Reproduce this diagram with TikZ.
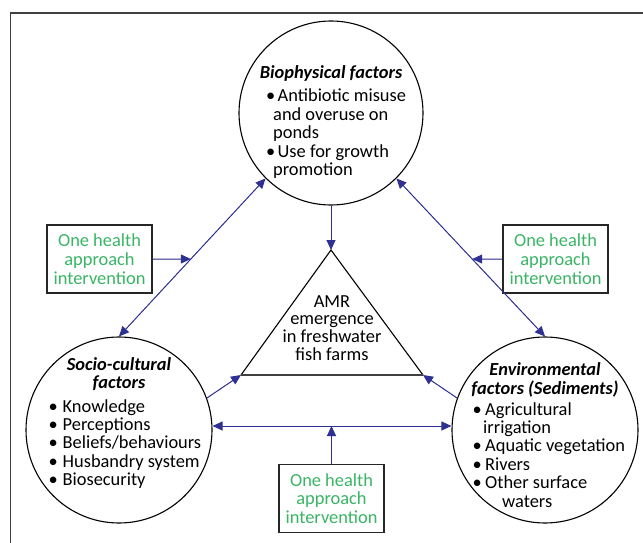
\documentclass[tikz,border=0pt]{standalone}
\usepackage{fontspec}
\setmainfont{Carlito}
\usetikzlibrary{arrows.meta,calc}
\definecolor{navyline}{RGB}{46,49,146}
\definecolor{ohgreen}{RGB}{57,181,101}
\newcommand\bitem[1]{\makebox[#1][l]{\textbullet}}
\begin{document}
\begin{tikzpicture}[x=1pt,y=-1pt,
  >={Triangle[length=10pt,width=9pt]},
  factor/.style={circle,draw=black,line width=1.1pt,minimum size=#1,inner sep=0pt},
  conn/.style={draw=navyline,fill=navyline,line width=1pt},
  txt/.style={inner sep=0pt,font=\fontsize{18.4}{18.4}\selectfont},
  ohbox/.style={draw=black!85,line width=1.4pt,fill=white,minimum width=105pt,minimum height=68pt,
     inner sep=0pt,align=center,text=ohgreen,font=\fontsize{18.4}{18.7}\selectfont}]
\useasboundingbox (0,0) rectangle (643,543);
% frame
\draw[line width=1.5pt,draw=black!75] (10.5,543) -- (10.5,13) -- (643,13);
% circles
\node[factor=184pt] (top) at (331,113) {};
\node[factor=186pt] (left) at (119,430) {};
\node[factor=186pt] (right) at (545,430) {};
% triangle
\coordinate (apex) at (331,250);
\coordinate (bl) at (241,375);
\coordinate (br) at (423,375);
\draw[line width=1.1pt,line join=miter] (bl) -- (apex) -- (br);
\draw[line width=2pt,draw=black!75] (bl) -- (br);
\node[txt,anchor=base] (amr) at (332,307) {\fontsize{18.4}{17.7}\selectfont\begin{tabular}[t]{@{}c@{}}AMR\\emergence\\in freshwater\\fish farms\end{tabular}};
% boxes
\node[ohbox] (lbox) at (99.5,259) {One health\\approach\\intervention};
\node[ohbox] (rbox) at (555.5,259) {One health\\approach\\intervention};
\node[ohbox] (bbox) at (331.5,498.5) {One health\\approach\\intervention};
% horizontal line ends
\coordinate (hA) at ($(left.east)+(0,-4)$);
\coordinate (hB) at ($(right.west)+(0,-4)$);
% connectors
\draw[conn,->] (top.south) -- (apex);
\draw[conn,<->] (left.north) -- (top.225);
\draw[conn,<->] (top.315) -- (right.north);
\draw[conn,<->] (hA) -- (hB);
\draw[conn,->] (left.20) -- (bl);
\draw[conn,->] (right.160) -- (br);
\draw[conn,->] (lbox.east) -- (intersection of lbox.east--rbox.west and left.north--top.225);
\draw[conn,->] (rbox.west) -- (intersection of lbox.east--rbox.west and top.315--right.north);
\draw[conn,->] (bbox.north) -- (bbox.north |- hA);
% top circle text
\node[txt,anchor=base] (toptitle) at (331,78) {\bfseries\itshape Biophysical factors};
\node[txt,anchor=base west] (topitems) at (266,102) {\begin{tabular}[t]{@{}l@{}}\bitem{11.5pt}Antibiotic misuse\\\hspace*{7pt}and overuse on\\\hspace*{7pt}ponds\\\bitem{11.5pt}Use for growth\\\hspace*{7pt}promotion\end{tabular}};
% left circle text
\node[txt,anchor=base] (lefttitle) at (119,370) {\bfseries\itshape\begin{tabular}[t]{@{}c@{}}Socio-cultural\\factors\end{tabular}};
\node[txt,anchor=base west] (leftitems) at (48.5,412) {\begin{tabular}[t]{@{}l@{}}\bitem{14pt}Knowledge\\\bitem{14pt}Perceptions\\\bitem{14pt}Beliefs/behaviours\\\bitem{14pt}Husbandry system\\\bitem{14pt}Biosecurity\end{tabular}};
% right circle text
\node[txt,anchor=base] (righttitle) at (545,375) {\bfseries\itshape\begin{tabular}[t]{@{}c@{}}Environmental\\factors (Sediments)\end{tabular}};
\node[txt,anchor=base west] (rightitems) at (472.5,415) {\begin{tabular}[t]{@{}l@{}}\bitem{12.5pt}Agricultural\\\hspace*{10.5pt}irrigation\\\bitem{12.5pt}Aquatic vegetation\\\bitem{12.5pt}Rivers\\\bitem{12.5pt}Other surface\\\hspace*{29.5pt}waters\end{tabular}};
\end{tikzpicture}
\end{document}
